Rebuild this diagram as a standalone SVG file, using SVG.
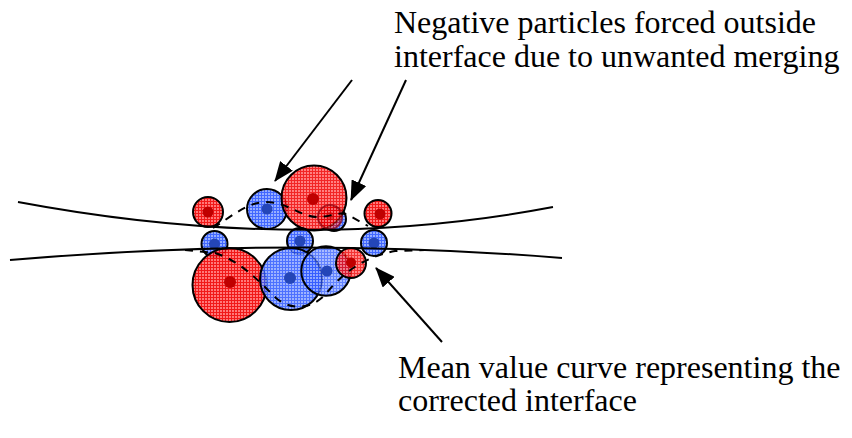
<svg xmlns="http://www.w3.org/2000/svg" width="852" height="438" viewBox="0 0 852 438">
<defs>
<pattern id="pr" width="3" height="3" patternUnits="userSpaceOnUse">
<rect width="3" height="3" fill="#ff6a6a"/>
<path d="M0,0.5H3M0.5,0V3" stroke="#f00000" stroke-width="1"/>
</pattern>
<pattern id="pb" width="3" height="3" patternUnits="userSpaceOnUse">
<rect width="3" height="3" fill="#8ca6ff"/>
<path d="M0,0.5H3M0.5,0V3" stroke="#2e58ff" stroke-width="1"/>
</pattern>
<marker id="ah" viewBox="0 0 20 16" refX="19" refY="8" markerWidth="20" markerHeight="16" markerUnits="userSpaceOnUse" orient="auto">
<path d="M0,0L20,8L0,16z" fill="#000"/>
</marker>
<style>
.r{fill:url(#pr);fill-opacity:0.9;stroke:#000;stroke-width:2}
.b{fill:url(#pb);fill-opacity:0.9;stroke:#000;stroke-width:2}
.rd{fill:#c00000}
.bd{fill:#2446b8}
.ln{fill:none;stroke:#000;stroke-width:2}
.ds{fill:none;stroke:#000;stroke-width:2;stroke-dasharray:8 7}
.ar{fill:none;stroke:#000;stroke-width:2;marker-end:url(#ah)}
.t{font-family:"Liberation Serif","Times New Roman",serif;font-size:32px;fill:#000}
</style>
</defs>
<rect width="852" height="438" fill="#fff"/>
<g id="particles">
<g id="p1"><circle class="b" cx="334" cy="219" r="12"/></g>
<g id="p2"><circle class="b" cx="267" cy="209" r="20"/><circle class="bd" cx="267" cy="209" r="5.5"/></g>
<g id="p3"><circle class="r" cx="314" cy="198" r="32.5" style="fill-opacity:0.85"/><circle class="rd" cx="313" cy="199" r="6"/></g>
<g id="p4"><circle class="r" cx="330" cy="217" r="12" style="fill-opacity:0.6;stroke:#8a0010;stroke-opacity:0.7"/><circle class="rd" cx="330" cy="216" r="4" style="opacity:0.5"/></g>
<g id="p5"><circle class="r" cx="208" cy="212" r="15"/><circle class="rd" cx="208" cy="212" r="5.5"/></g>
<g id="p6"><circle class="r" cx="378" cy="213.5" r="13.5"/><circle class="rd" cx="380" cy="214" r="5.5"/></g>
<g id="p7"><circle class="b" cx="214.5" cy="244" r="13"/><circle class="bd" cx="214.5" cy="244" r="5.5"/></g>
<g id="p8"><circle class="b" cx="300" cy="241" r="13"/><circle class="bd" cx="300" cy="241" r="5.5"/></g>
<g id="p9"><circle class="b" cx="374" cy="243" r="13"/><circle class="bd" cx="374" cy="243" r="5.5"/></g>
<g id="p10"><circle class="r" cx="229.5" cy="285" r="37"/><circle class="rd" cx="230" cy="282" r="6"/></g>
<g id="p11"><circle class="b" cx="291" cy="279" r="31" style="fill-opacity:0.85"/><circle class="bd" cx="290" cy="278" r="6"/></g>
<g id="p12"><circle class="b" cx="326" cy="271" r="24.7" style="fill-opacity:0.75"/><circle class="bd" cx="327" cy="271" r="5.5"/></g>
<g id="p13"><circle class="r" cx="351" cy="263" r="15" style="fill-opacity:0.8"/><circle class="rd" cx="351" cy="262.5" r="5"/></g>
</g>
<g id="connectors">
<path class="ln" d="M18,202 Q300,255 553,207"/>
<path class="ln" d="M10,260 Q290,236 562,258"/>
<path class="ds" d="M213,228 C232,216 248,202 266,202 C288,202 300,217 318,217 C332,217 340,210 350,216 L368,226"/>
<path class="ds" d="M185,250 L215,253 C240,261 258,280 276,298 C290,310 310,310 325,295 C340,276 360,258 395,251 L425,250"/>
<path class="ar" d="M352,80 L275,181"/>
<path class="ar" d="M406,80 L351,200"/>
<path class="ar" d="M442,342 L376,268"/>
</g>
<g id="labels">
<text class="t" x="394" y="33">Negative particles forced outside</text>
<text class="t" x="394" y="67">interface due to unwanted merging</text>
<text class="t" x="398" y="378">Mean value curve representing the</text>
<text class="t" x="398" y="411">corrected interface</text>
</g>
</svg>
